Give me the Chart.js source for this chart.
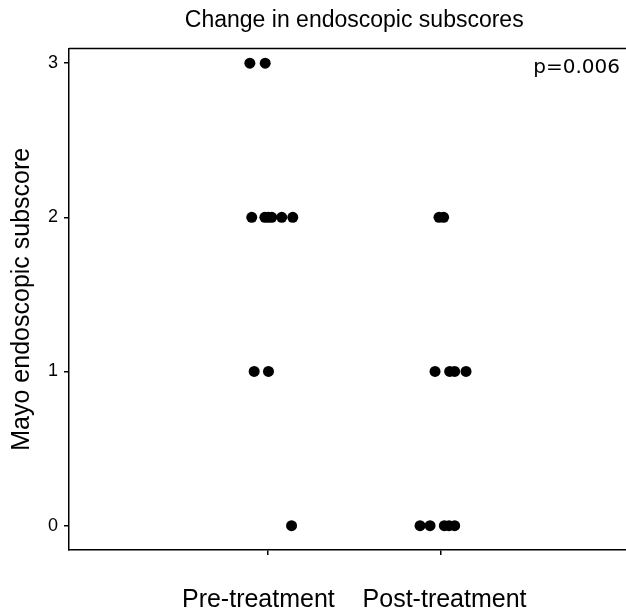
<!DOCTYPE html>
<html>
<head>
<meta charset="utf-8">
<title>Change in endoscopic subscores</title>
<script src="https://cdn.jsdelivr.net/npm/chart.js@4.4.1/dist/chart.umd.min.js"></script>
<style>
    html, body {
        margin: 0;
        padding: 0;
        overflow: hidden;
        background: #ffffff;
    }
    #wrap {
        width: 645px;
        height: 609px;
    }
    canvas {
        display: block;
    }
</style>
</head>
<body>
<div id="wrap"><canvas id="chart" width="645" height="609"></canvas></div>
<script>
// Categories on the x axis (Pre = 1, Post = 2)
const categories = ['Pre-treatment', 'Post-treatment'];

// Scores per patient, with the horizontal jitter
const preScores  = [3, 3, 2, 2, 2, 2, 2, 2, 1, 1, 0];
const preJitter  = [-0.106, -0.017, -0.095, -0.019, 0.001, 0.021, 0.079, 0.143, -0.081, 0.002, 0.136];
const postScores = [2, 2, 1, 1, 1, 1, 0, 0, 0, 0, 0];
const postJitter = [-0.008, 0.019, -0.031, 0.054, 0.083, 0.149, -0.118, -0.060, 0.023, 0.050, 0.083];

const yTicks = [0, 1, 2, 3];
const xTicks = [1, 2];

const chartTitle = 'Change in endoscopic subscores';
const yTitle = 'Mayo endoscopic subscore';
const pLabel = 'p=0.006';

function toPoints(scores, jitter, pos) {
    return scores.map((s, i) => ({ x: pos + jitter[i], y: s }));
}

// title, p-value and the top frame line
const extras = {
    id: 'extras',
    afterDraw(chart) {
        const ctx = chart.ctx;
        const area = chart.chartArea;
        ctx.save();
        ctx.strokeStyle = '#000000';
        ctx.lineWidth = 1.5;
        ctx.beginPath();
        ctx.moveTo(area.left, area.top);
        ctx.lineTo(area.right, area.top);
        ctx.stroke();

        ctx.fillStyle = '#000000';
        ctx.textBaseline = 'middle';
        ctx.textAlign = 'center';
        ctx.font = '23px "Liberation Sans", Arial, sans-serif';
        ctx.fillText(chartTitle, (area.left + area.right) / 2, 21);

        ctx.textAlign = 'right';
        ctx.font = '20px "DejaVu Sans", sans-serif';
        ctx.fillText(pLabel, 620, 68);
        ctx.restore();
    }
};

new Chart(document.getElementById('chart'), {
    type: 'scatter',
    data: {
        datasets: [
            {
                label: categories[0],
                data: toPoints(preScores, preJitter, 1),
                backgroundColor: '#000000',
                borderWidth: 0,
                pointRadius: 5.5,
                pointHoverRadius: 5.5
            },
            {
                label: categories[1],
                data: toPoints(postScores, postJitter, 2),
                backgroundColor: '#000000',
                borderWidth: 0,
                pointRadius: 5.5,
                pointHoverRadius: 5.5
            }
        ]
    },
    options: {
        responsive: false,
        animation: false,
        layout: {
            padding: { left: 0, right: 5, top: 48.5, bottom: 0 }
        },
        plugins: {
            legend: { display: false },
            tooltip: { enabled: false }
        },
        scales: {
            x: {
                type: 'linear',
                min: -0.156,
                max: 3.156,
                afterBuildTicks: (scale) => {
                    scale.ticks = xTicks.map(v => ({ value: v }));
                },
                afterFit: (scale) => {
                    scale.height = 59;
                },
                border: { display: true, color: '#000000', width: 1.5 },
                grid: {
                    display: true,
                    drawOnChartArea: false,
                    drawTicks: true,
                    tickLength: 5,
                    color: '#000000',
                    lineWidth: 1.5
                },
                ticks: {
                    callback: () => '',
                    padding: 0
                },
                title: {
                    display: true,
                    text: categories.join('    '),
                    color: '#000000',
                    font: { family: '"Liberation Sans", Arial, sans-serif', size: 25, lineHeight: 0.7 },
                    padding: { top: 0, bottom: 0 }
                }
            },
            y: {
                type: 'linear',
                min: -0.158,
                max: 3.095,
                afterBuildTicks: (scale) => {
                    scale.ticks = yTicks.map(v => ({ value: v }));
                },
                afterFit: (scale) => {
                    scale.width = 69;
                },
                border: { display: true, color: '#000000', width: 1.5 },
                grid: {
                    display: true,
                    drawOnChartArea: false,
                    drawTicks: true,
                    tickLength: 5,
                    color: '#000000',
                    lineWidth: 1.5
                },
                ticks: {
                    color: '#000000',
                    padding: 6,
                    font: { family: '"Liberation Sans", Arial, sans-serif', size: 18 },
                    callback: (v) => String(v)
                },
                title: {
                    display: true,
                    text: yTitle,
                    color: '#000000',
                    font: { family: '"Liberation Sans", Arial, sans-serif', size: 25, lineHeight: 1.2 },
                    padding: { top: 7, bottom: 0 }
                }
            }
        }
    },
    plugins: [extras]
});
</script>
</body>
</html>
